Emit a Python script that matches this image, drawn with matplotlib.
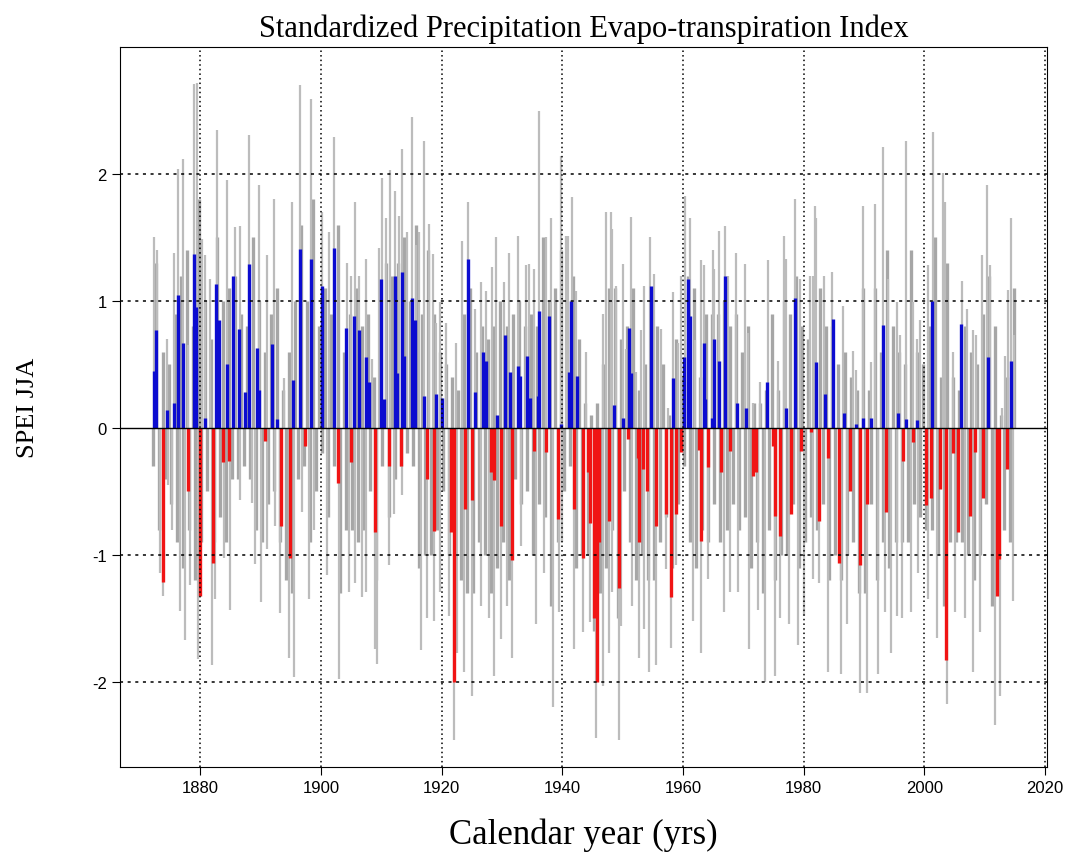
import numpy as np
import matplotlib.pyplot as plt

# JJA (summer) values, coloured bars: decimal year, SPEI value
jja_years = [1872.3, 1872.6, 1873.9, 1874.5, 1875.7, 1876.4, 1877.1, 1877.9, 1878.9, 1879.3,
             1879.9, 1880.8, 1882.1, 1882.65, 1883.15, 1883.8, 1884.4, 1884.8, 1885.5, 1886.4,
             1887.5, 1888.0, 1889.4, 1889.7, 1890.7, 1891.9, 1892.7, 1893.4, 1894.9, 1895.3,
             1896.5, 1897.4, 1898.4, 1900.2, 1902.1, 1902.9, 1904.1, 1904.9, 1905.4, 1906.3,
             1907.4, 1907.9, 1909.0, 1909.9, 1910.4, 1911.3, 1912.3, 1912.6, 1913.2, 1913.5,
             1913.8, 1915.1, 1915.6, 1917.1, 1917.6, 1918.7, 1919.0, 1920.0, 1921.5, 1922.0,
             1923.9, 1924.3, 1925.1, 1925.5, 1926.8, 1927.3, 1928.1, 1928.6, 1929.1, 1929.8,
             1930.5, 1931.3, 1931.7, 1932.6, 1932.9, 1934.2, 1934.6, 1935.3, 1936.0, 1936.2,
             1937.3, 1937.8, 1939.2, 1939.8, 1941.1, 1941.4, 1942.0, 1942.4, 1943.5, 1944.2,
             1944.6, 1945.3, 1945.7, 1946.1, 1947.8, 1948.6, 1949.4, 1950.1, 1950.8, 1951.1,
             1951.4, 1952.5, 1952.75, 1953.3, 1954.1, 1954.7, 1955.5, 1957.2, 1958.0, 1958.4,
             1958.8, 1959.7, 1960.2, 1960.8, 1961.2, 1962.7, 1963.0, 1963.4, 1963.7, 1964.1,
             1964.8, 1965.1, 1965.9, 1966.3, 1967.0, 1967.7, 1968.9, 1970.5, 1971.6, 1972.1,
             1973.9, 1974.9, 1975.2, 1976.0, 1977.1, 1977.9, 1978.6, 1979.6, 1981.2, 1982.1,
             1982.6, 1983.5, 1984.0, 1984.8, 1985.9, 1986.6, 1987.6, 1988.7, 1989.3, 1989.8,
             1990.5, 1991.2, 1993.1, 1993.7, 1995.6, 1996.5, 1997.0, 1998.1, 1998.7, 2000.3,
             2001.1, 2001.3, 2002.5, 2003.6, 2004.8, 2005.6, 2006.1, 2007.5, 2008.4, 2009.7,
             2010.5, 2011.95, 2012.4, 2013.6, 2014.4]
jja_vals = [0.45, 0.77, -1.21, 0.14, 0.20, 1.05, 0.67, -0.50, 1.37, 0.95,
            -1.32, 0.08, -1.06, 1.13, 0.85, -0.27, 0.50, -0.26, 1.20, 0.78,
            0.28, 1.29, 0.63, 0.30, -0.10, 0.66, 0.07, -0.77, -1.02, 0.38,
            1.41, -0.14, 1.33, 1.12, 1.42, -0.43, 0.79, -0.27, 0.88, 0.77,
            0.56, 0.36, -0.82, 1.17, 0.23, -0.30, 1.20, 0.43, -0.30, 1.23,
            0.57, 1.02, 0.85, 0.25, -0.40, -0.81, 0.27, 0.24, -0.82, -2.00,
            -0.64, 1.33, -0.57, 0.28, 0.60, 0.53, -0.35, -0.41, 0.10, -0.77,
            0.73, 0.44, -1.04, 0.49, 0.41, 0.57, 0.24, -0.18, 0.25, 0.92,
            -0.19, 0.88, -0.72, 0.03, 0.44, 1.00, -0.64, 0.41, -1.02, -0.35,
            -0.75, -1.50, -2.00, -0.90, -0.73, 0.18, -1.26, 0.08, -0.09, 0.79,
            0.43, -0.24, -0.90, -0.32, -0.50, 1.12, -0.77, -0.68, -1.33, 0.39,
            -0.68, -0.19, 0.56, 1.17, 0.88, -0.17, -0.89, 0.67, 0.23, -0.31,
            0.08, 0.70, 0.53, -0.35, 1.20, -0.18, 0.20, 0.16, -0.38, -0.35,
            0.36, -0.14, -0.69, -0.85, 0.16, -0.68, 1.02, -0.18, -0.03, 0.52,
            -0.73, 0.27, -0.24, 0.86, -1.06, 0.12, -0.50, 0.03, -1.08, 0.08,
            -0.60, 0.08, 0.81, -0.66, 0.12, -0.26, 0.07, -0.11, 0.06, -0.61,
            -0.55, 1.00, -0.48, -1.83, -0.20, -0.82, 0.82, -0.69, -0.19, -0.55,
            0.56, -1.32, -1.03, -0.32, 0.53]

# other months, grey bars: wet peaks
grey_up_years = [1872.3, 1872.8, 1874.5, 1875.6, 1876.4, 1877.2, 1878.0, 1879.0, 1879.4, 1880.3,
                 1880.8, 1881.7, 1882.8, 1884.5, 1885.8, 1886.6, 1888.0, 1889.7, 1891.1, 1892.2,
                 1893.8, 1895.2, 1896.6, 1898.3, 1900.2, 1901.3, 1902.1, 1904.3, 1904.9, 1905.7,
                 1906.3, 1907.4, 1908.5, 1909.6, 1910.2, 1910.7, 1911.5, 1912.2, 1912.9, 1913.5,
                 1914.3, 1915.1, 1915.7, 1916.2, 1917.1, 1917.9, 1918.5, 1919.0, 1919.8, 1920.7,
                 1922.3, 1923.4, 1924.3, 1925.6, 1926.5, 1927.3, 1928.4, 1929.0, 1930.3, 1931.2,
                 1932.6, 1933.9, 1934.5, 1935.3, 1936.2, 1937.3, 1938.1, 1939.8, 1940.6, 1940.9,
                 1941.6, 1942.2, 1943.9, 1946.7, 1947.2, 1948.0, 1948.3, 1948.9, 1950.0, 1950.5,
                 1951.4, 1952.2, 1953.0, 1953.6, 1954.6, 1955.2, 1956.4, 1957.5, 1958.3, 1959.1,
                 1959.7, 1960.3, 1961.1, 1961.9, 1963.0, 1963.5, 1964.9, 1965.2, 1966.0, 1966.9,
                 1967.4, 1968.8, 1970.2, 1970.7, 1971.6, 1972.7, 1974.1, 1975.7, 1976.8, 1977.1,
                 1978.5, 1979.3, 1980.97, 1981.5, 1981.8, 1982.1, 1983.4, 1984.6, 1986.5, 1988.2,
                 1988.7, 1989.8, 1991.2, 1991.8, 1993.1, 1994.0, 1995.4, 1995.9, 1997.0, 1998.1,
                 1998.7, 1999.2, 2000.6, 2001.4, 2003.1, 2003.4, 2004.8, 2006.2, 2007.0, 2008.1,
                 2008.6, 2009.5, 2010.3, 2010.9, 2012.8, 2013.3, 2013.9, 2014.4, 2014.8]
grey_up_vals = [1.50, 1.40, 0.70, 1.38, 2.04, 2.12, 0.65, 2.71, 2.72, 1.49,
                1.36, 1.17, 2.35, 1.95, 1.58, 1.59, 2.31, 1.91, 1.36, 1.80,
                0.39, 1.78, 2.70, 2.59, 1.70, 1.54, 2.29, 1.30, 1.20, 1.78,
                1.20, 1.33, 0.54, 1.42, 1.97, 1.65, 2.03, 1.87, 1.67, 2.20,
                1.54, 2.45, 1.44, 1.54, 2.26, 1.61, 1.37, 0.83, 0.99, 0.83,
                0.67, 1.47, 1.78, 0.94, 1.15, 1.08, 1.27, 1.50, 1.15, 1.38,
                1.51, 1.28, 1.29, 1.25, 2.50, 1.50, 1.65, 2.14, 1.51, 1.51,
                1.82, 1.08, 0.60, 0.90, 1.70, 1.70, 1.57, 1.12, 1.29, 0.62,
                1.66, 0.44, 0.77, 1.12, 1.50, 1.21, 0.78, 0.16, 1.07, 0.67,
                1.20, 1.83, 1.65, 0.69, 1.32, 1.28, 1.40, 1.25, 1.55, 1.59,
                1.20, 1.38, 1.29, 0.75, 0.20, 0.36, 1.32, 0.53, 1.51, 1.33,
                1.80, 1.17, 1.20, 1.20, 1.75, 1.65, 1.20, 1.23, 0.96, 0.61,
                0.46, 1.75, 0.52, 1.76, 2.21, 1.17, 0.99, 0.73, 2.26, 0.99,
                0.70, 0.85, 1.28, 2.33, 2.01, 1.78, 0.60, 1.16, 0.94, 0.77,
                0.73, 1.36, 1.91, 1.28, 0.16, 0.57, 1.09, 1.65, 0.73]

# other months, grey bars: dry troughs
grey_dn_years = [1873.4, 1873.9, 1874.7, 1875.3, 1876.7, 1877.5, 1878.3, 1879.7, 1881.9, 1882.5,
                 1883.9, 1884.9, 1886.6, 1888.6, 1889.1, 1890.0, 1891.1, 1892.4, 1893.3, 1894.7,
                 1895.5, 1896.9, 1898.0, 1898.8, 1901.0, 1903.0, 1904.6, 1905.7, 1906.8, 1907.4,
                 1909.0, 1909.3, 1911.3, 1912.1, 1913.5, 1916.5, 1917.6, 1918.7, 1919.8, 1921.2,
                 1922.05, 1922.6, 1923.7, 1925.1, 1926.5, 1927.9, 1928.7, 1929.8, 1930.9, 1931.7,
                 1933.1, 1935.6, 1937.0, 1938.4, 1939.5, 1940.0, 1942.0, 1943.35, 1944.5, 1945.6,
                 1946.7, 1947.8, 1948.3, 1949.4, 1949.7, 1951.6, 1952.75, 1953.5, 1954.4, 1955.5,
                 1957.2, 1958.0, 1958.8, 1961.6, 1962.9, 1964.1, 1966.7, 1967.7, 1969.1, 1971.0,
                 1972.4, 1973.5, 1975.2, 1976.0, 1977.6, 1979.0, 1980.1, 1981.5, 1982.6, 1984.0,
                 1986.1, 1987.1, 1989.3, 1990.4, 1992.3, 1993.4, 1994.5, 1995.4, 1996.2, 1997.8,
                 1999.0, 2000.6, 2002.0, 2003.7, 2005.0, 2006.7, 2008.1, 2009.2, 2011.7, 2012.5,
                 2014.7]
grey_dn_vals = [-1.14, -1.32, -0.45, -0.80, -1.44, -1.67, -1.24, -1.82, -1.87, -1.35,
                -1.02, -1.43, -0.57, -0.59, -1.07, -1.37, -0.95, -0.77, -1.46, -1.81,
                -1.96, -0.66, -1.35, -0.80, -1.16, -1.98, -1.29, -1.22, -1.33, -1.29,
                -1.74, -1.86, -1.08, -0.68, -0.53, -1.75, -1.50, -1.52, -1.29, -1.48,
                -2.46, -1.77, -1.92, -2.11, -1.40, -1.50, -1.95, -1.66, -1.40, -1.81,
                -0.93, -1.54, -1.14, -2.20, -1.45, -0.90, -1.74, -1.61, -1.53, -2.44,
                -2.03, -1.77, -1.29, -2.46, -1.56, -1.40, -1.81, -1.58, -1.92, -1.87,
                -1.11, -1.73, -1.08, -1.52, -1.77, -1.19, -1.45, -1.29, -1.29, -1.74,
                -1.43, -2.00, -1.95, -1.50, -1.54, -1.71, -1.48, -1.19, -1.22, -1.92,
                -1.94, -1.54, -2.09, -2.09, -1.94, -1.45, -1.77, -1.48, -1.50, -1.45,
                -1.14, -1.35, -1.65, -2.17, -1.45, -1.50, -1.92, -1.61, -2.34, -2.11,
                -1.36]

# typical (non-extreme) grey level per year, 1872-2014
years = np.arange(1872, 2015)
grey_mid_up = [1.3, 0.6, 0.5, 0.9, 1.2, 1.4, 0.8, 1.8, 1.0, 0.7,
               1.5, 1.0, 1.1, 1.2, 0.9, 0.8, 1.5, 1.0, 0.6, 0.9,
               1.1, 0.3, 0.6, 1.0, 1.6, 1.0, 1.8, 0.8, 1.1, 0.9,
               1.6, 0.6, 0.9, 1.1, 0.8, 0.9, 0.4, 0.9, 1.3, 1.2,
               1.3, 1.5, 1.0, 1.6, 0.9, 1.4, 0.9, 0.6, 0.5, 0.4,
               0.3, 0.9, 1.1, 0.6, 0.8, 0.7, 0.8, 1.0, 0.8, 0.9,
               1.0, 0.8, 0.9, 0.8, 1.5, 1.0, 1.1, 1.4, 1.0, 1.2,
               0.7, 0.2, 0.1, 0.2, 0.5, 1.1, 1.1, 0.7, 0.8, 1.1,
               0.3, 0.5, 1.0, 0.8, 0.5, 0.1, 0.7, 0.4, 1.2, 1.1,
               0.4, 0.9, 0.9, 0.9, 1.0, 0.8, 0.9, 0.6, 0.8, 0.2,
               0.2, 0.3, 0.9, 0.3, 1.0, 0.9, 1.2, 0.8, 0.7, 0.8,
               1.1, 0.8, 0.8, 0.5, 0.6, 0.4, 0.3, 1.1, 0.3, 1.1,
               0.6, 1.4, 0.8, 0.6, 0.5, 1.4, 0.6, 0.5, 0.8, 1.5,
               0.4, 1.3, 0.4, 0.3, 0.8, 0.6, 0.5, 0.9, 1.2, 0.8,
               0.1, 0.4, 1.1]
grey_mid_dn = [-0.3, -0.8, -0.4, -0.6, -0.9, -1.1, -0.8, -1.2, -0.9, -0.5,
               -0.9, -0.7, -0.9, -0.4, -0.4, -0.3, -0.4, -0.8, -0.9, -0.6,
               -0.5, -0.9, -1.2, -1.3, -0.4, -0.3, -0.9, -0.5, -0.2, -0.7,
               -0.3, -1.3, -0.8, -0.8, -0.9, -0.8, -0.5, -1.2, -0.3, -0.7,
               -0.4, -0.3, -0.2, -0.3, -1.1, -1.0, -1.0, -0.8, -0.5, -1.0,
               -1.5, -1.2, -1.3, -1.3, -0.9, -1.0, -1.3, -1.1, -0.9, -1.2,
               -0.4, -0.6, -0.5, -1.0, -0.6, -0.7, -1.4, -0.9, -0.5, -0.3,
               -1.1, -1.0, -1.0, -1.6, -1.3, -1.1, -0.8, -1.5, -0.5, -0.9,
               -1.2, -1.0, -1.2, -1.2, -0.9, -0.7, -1.1, -0.6, -0.3, -0.9,
               -1.1, -0.8, -0.9, -0.6, -0.9, -0.8, -0.6, -0.8, -0.7, -1.1,
               -0.9, -1.3, -0.8, -1.2, -1.0, -1.0, -0.6, -1.1, -0.9, -0.7,
               -0.8, -0.6, -1.2, -1.0, -1.2, -1.0, -0.9, -1.3, -1.3, -0.6,
               -1.2, -0.9, -1.1, -0.9, -0.9, -0.9, -0.6, -0.7, -0.8, -0.8,
               -1.0, -1.4, -0.9, -0.9, -0.9, -1.0, -1.2, -1.0, -0.6, -1.4,
               -1.3, -0.8, -0.9]

fig = plt.figure(figsize=(10.71, 8.62), dpi=100)
ax = fig.add_axes([0.112, 0.109, 0.8656, 0.8353])

# grey months first, summer months on top
ax.vlines(years + 0.75, 0, grey_mid_up, color='#a6a6a6', lw=2.4, zorder=1)
ax.vlines(years + 0.2, 0, grey_mid_dn, color='#a6a6a6', lw=2.4, zorder=1)
ax.vlines(grey_up_years, 0, grey_up_vals, color='#bcbcbc', lw=1.6, zorder=1)
ax.vlines(grey_dn_years, 0, grey_dn_vals, color='#bcbcbc', lw=1.6, zorder=1)

jv = np.array(jja_vals)
cols = np.where(jv >= 0, '#0c0cd0', '#f01414')
ax.vlines(jja_years, 0, jja_vals, colors=cols, lw=2.4, zorder=2)

ax.axhline(0, color='black', lw=1.0, zorder=4)
ax.set_xlim(1866.7, 2020.3)
ax.set_ylim(-2.67, 3.0)
ax.set_xticks(range(1880, 2021, 20))
ax.set_yticks([-2, -1, 0, 1, 2])
ax.set_yticklabels(['-2', '-1', '0', '1', '2'])
for v in [-2, -1, 1, 2]:
    ax.axhline(v, color='black', lw=1.1, ls=(0, (2, 3)), zorder=3)
for yr in range(1880, 2021, 20):
    ax.axvline(yr, color='black', lw=1.1, ls=(0, (1, 2)), zorder=3)

ax.tick_params(labelsize=12, length=6, direction='out')
for lab in ax.get_xticklabels() + ax.get_yticklabels():
    lab.set_family('Liberation Sans')

ax.set_title('Standardized Precipitation Evapo-transpiration Index',
             family='Liberation Serif', fontsize=22, pad=8)
ax.set_xlabel('Calendar year (yrs)', family='Liberation Serif', fontsize=25, labelpad=16)
ax.set_ylabel('SPEI JJA', family='Liberation Serif', fontsize=19, labelpad=38)

plt.savefig('out.png', dpi=100)
